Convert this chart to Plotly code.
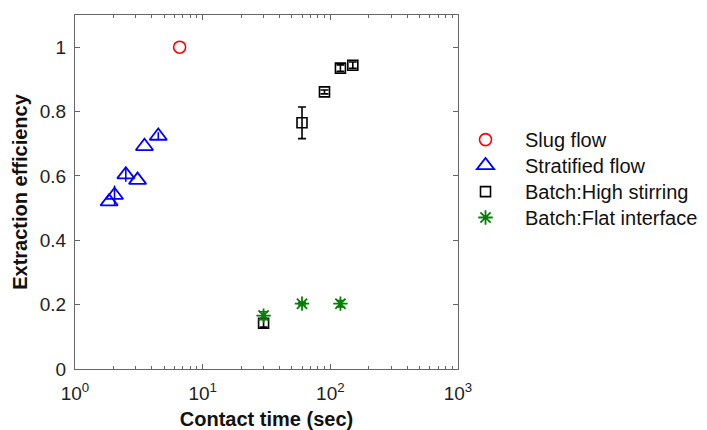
import plotly.graph_objects as go

# Slug flow
slug_t = [6.6]
slug_eff = [1.0]

# Stratified flow
strat_t = [1.85, 2.04, 2.5, 3.09, 3.5, 4.49]
strat_eff = [0.52, 0.54, 0.604, 0.587, 0.692, 0.724]
strat_err = [0.0, 0.03, 0.022, 0.0, 0.0, 0.012]

# Batch, high stirring
high_t = [30, 60, 90, 120, 150]
high_eff = [0.142, 0.765, 0.861, 0.935, 0.944]
high_err = [0.012, 0.049, 0.006, 0.01, 0.01]

# Batch, flat interface
flat_t = [30, 60, 120]
flat_eff = [0.166, 0.203, 0.203]
flat_err = [0.012, 0.004, 0.01]

x_tickvals = [1, 10, 100, 1000]
x_ticktext = ["10<sup>0</sup>", "10<sup>1</sup>", "10<sup>2</sup>", "10<sup>3</sup>"]
y_tickvals = [0, 0.2, 0.4, 0.6, 0.8, 1.0]
y_ticktext = ["0", "0.2", "0.4", "0.6", "0.8", "1"]

FONT = "Liberation Sans, Arial, sans-serif"

# One legend box per series, stacked down the right-hand side
legend_ids = ["legend", "legend2", "legend3", "legend4"]
legend_rows = [0.648, 0.575, 0.501, 0.428]

fig = go.Figure()

fig.add_trace(go.Scatter(
    x=slug_t, y=slug_eff, mode="markers", name="Slug flow", legend=legend_ids[0],
    marker=dict(symbol="circle-open", size=12, color="#ff0000",
                line=dict(width=1.6, color="#ff0000")),
))
fig.add_trace(go.Scatter(
    x=strat_t, y=strat_eff, mode="markers", name="Stratified flow", legend=legend_ids[1],
    error_y=dict(type="data", array=strat_err, color="#0000ff", thickness=1.6, width=0),
    marker=dict(symbol="triangle-up-open", size=15, color="#0000ff",
                line=dict(width=1.8, color="#0000ff")),
))
fig.add_trace(go.Scatter(
    x=high_t, y=high_eff, mode="markers", name="Batch:High stirring", legend=legend_ids[2],
    error_y=dict(type="data", array=high_err, color="#000000", thickness=1.6, width=4),
    marker=dict(symbol="square-open", size=10, color="#000000",
                line=dict(width=1.6, color="#000000")),
))
fig.add_trace(go.Scatter(
    x=flat_t, y=flat_eff, mode="markers", name="Batch:Flat interface", legend=legend_ids[3],
    error_y=dict(type="data", array=flat_err, color="#008000", thickness=1.6, width=4),
    marker=dict(symbol="asterisk-open", size=12, color="#008000",
                line=dict(width=1.8, color="#008000")),
))

axis_common = dict(
    showline=True, linecolor="#666666", linewidth=1.2, mirror="ticks",
    ticks="inside", ticklen=5, tickcolor="#666666", tickwidth=1,
    showgrid=False, zeroline=False, automargin=False,
    tickfont=dict(family=FONT, size=19, color="#222222"),
)

fig.update_xaxes(
    type="log", range=[0, 3],
    tickvals=x_tickvals, ticktext=x_ticktext,
    ticklabelstandoff=7,
    minor=dict(ticks="inside", ticklen=3, tickcolor="#666666", dtick="D1", showgrid=False),
    title=dict(text="<b>Contact time (sec)</b>", font=dict(family=FONT, size=20, color="#111111"),
               standoff=12),
    **axis_common,
)
fig.update_yaxes(
    range=[0, 1.1],
    tickvals=y_tickvals, ticktext=y_ticktext,
    ticklabelstandoff=4,
    title=dict(text="<b>Extraction efficiency</b>", font=dict(family=FONT, size=20, color="#111111"),
               standoff=6),
    **axis_common,
)

legend_style = dict(
    x=0.9687, xanchor="left", yanchor="middle",
    font=dict(family=FONT, size=20, color="#111111"),
    itemwidth=69, bgcolor="rgba(0,0,0,0)",
)

fig.update_layout(
    width=707, height=430,
    margin=dict(l=75, r=249, t=15, b=61, autoexpand=False),
    paper_bgcolor="white", plot_bgcolor="white",
    font=dict(family=FONT, color="#111111"),
    showlegend=True,
    **{lid: dict(y=row, **legend_style) for lid, row in zip(legend_ids, legend_rows)},
)

fig.write_html("out.html")
